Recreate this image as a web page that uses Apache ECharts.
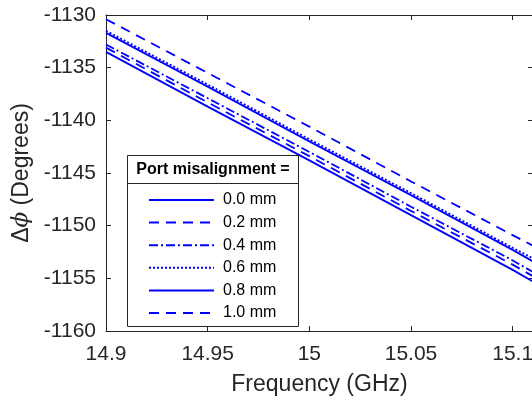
<!DOCTYPE html>
<html>
<head>
<meta charset="utf-8">
<script src="https://cdn.jsdelivr.net/npm/echarts@6/dist/echarts.min.js"></script>
<style>
html,body{margin:0;padding:0;background:#fff;}
#chart{width:532px;height:403px;}
</style>
</head>
<body>
<div id="chart"></div>
<script>
// Data
var freq = [14.90, 14.95, 15.00, 15.05, 15.10, 15.11];
var s00 = [-1133.5, -1138.7, -1143.8, -1149.0, -1154.2, -1155.3];
var s02 = [-1133.1, -1138.3, -1143.4, -1148.6, -1153.7, -1154.8];
var s04 = [-1132.8, -1137.9, -1143.0, -1148.2, -1153.3, -1154.4];
var s06 = [-1131.5, -1136.6, -1141.8, -1146.9, -1152.1, -1153.1];
var s08 = [-1131.7, -1136.8, -1142.0, -1147.1, -1152.3, -1153.4];
var s10 = [-1130.4, -1135.5, -1140.6, -1145.8, -1150.9, -1151.9];
var seriesNames = ['0.0 mm', '0.2 mm', '0.4 mm', '0.6 mm', '0.8 mm', '1.0 mm'];
var xTicks = [14.9, 14.95, 15, 15.05, 15.1];
var yTicks = [-1160, -1155, -1150, -1145, -1140, -1135, -1130];
var legendTitle = 'Port misalignment =';

var FONT = '"Liberation Sans", Arial, Helvetica, sans-serif';
var AXC = '#262626';
var BLUE = '#0000ff';

function pairs(ys) { return freq.map(function (f, i) { return [f, ys[i]]; }); }
var values = [s00, s02, s04, s06, s08, s10];
var dashes = ['solid', [10, 7], [9, 3, 2, 3], [2, 2], 'solid', [10, 7]];

var series = values.map(function (ys, i) {
  return {
    name: seriesNames[i],
    type: 'line',
    data: pairs(ys),
    symbol: 'none',
    showSymbol: false,
    silent: true,
    animation: false,
    lineStyle: { color: BLUE, width: 1.8, type: dashes[i] },
    itemStyle: { color: BLUE },
    z: 2
  };
});

var chart = echarts.init(document.getElementById('chart'), null, { renderer: 'canvas' });

var axisCommon = {
  axisLine: { show: true, onZero: false, lineStyle: { color: AXC, width: 1 } },
  axisTick: { show: true, inside: true, length: 5, lineStyle: { color: AXC, width: 1 } },
  splitLine: { show: false }
};

chart.setOption({
  animation: false,
  backgroundColor: '#fff',
  grid: { left: 106, top: 15, width: 427, height: 316, containLabel: false, outerBoundsMode: 'none' },
  xAxis: [
    Object.assign({}, axisCommon, {
      type: 'value', position: 'bottom',
      min: xTicks[0], max: 15.11, interval: 0.05,
      axisLabel: {
        show: true, margin: 13, fontSize: 21, color: AXC, fontFamily: FONT,
        showMaxLabel: false,
        formatter: function (v) { return String(+v.toFixed(2)); }
      },
      name: 'Frequency (GHz)', nameLocation: 'middle', nameGap: 42,
      nameTextStyle: { fontSize: 23, color: AXC, fontFamily: FONT }
    }),
    Object.assign({}, axisCommon, {
      type: 'value', position: 'top',
      min: xTicks[0], max: 15.11, interval: 0.05,
      axisLabel: { show: false }
    })
  ],
  yAxis: [
    Object.assign({}, axisCommon, {
      type: 'value', position: 'left',
      min: yTicks[0], max: yTicks[yTicks.length - 1], interval: 5,
      axisLabel: {
        show: true, margin: 10, fontSize: 21, color: AXC, fontFamily: FONT,
        formatter: function (v) { return String(v); }
      },
      name: '{a|Δ}{b|ϕ}{a| (Degrees)}', nameLocation: 'middle', nameGap: 70, nameRotate: 90,
      nameTextStyle: {
        fontSize: 23, color: AXC, fontFamily: FONT,
        rich: {
          a: { fontSize: 23, color: AXC, fontFamily: FONT },
          b: { fontSize: 23, color: AXC, fontStyle: 'italic', fontFamily: '"DejaVu Serif", serif' }
        }
      }
    }),
    Object.assign({}, axisCommon, {
      type: 'value', position: 'right',
      min: yTicks[0], max: yTicks[yTicks.length - 1], interval: 5,
      axisLabel: { show: false }
    })
  ],
  legend: {
    show: true,
    orient: 'vertical',
    left: 148, top: 192,
    padding: 0,
    itemWidth: 65, itemHeight: 14, itemGap: 6.6,
    data: seriesNames,
    selectedMode: false,
    itemStyle: { opacity: 0 },
    textStyle: { fontSize: 16, color: '#000', fontFamily: FONT, padding: [0, 0, 0, 4] },
    z: 20
  },
  graphic: [
    {
      type: 'rect', z: 10,
      shape: { x: 127.5, y: 155.5, width: 171, height: 171 },
      style: { fill: '#fff', stroke: '#262626', lineWidth: 1 }
    },
    {
      type: 'line', z: 11,
      shape: { x1: 127.5, y1: 183.5, x2: 298.5, y2: 183.5 },
      style: { stroke: '#262626', lineWidth: 1 }
    },
    {
      type: 'text', z: 12,
      x: 213, y: 170,
      style: {
        text: legendTitle, fontSize: 16, fontWeight: 'bold', fontFamily: FONT,
        fill: '#000', align: 'center', verticalAlign: 'middle'
      }
    }
  ],
  series: series
});
</script>
</body>
</html>
